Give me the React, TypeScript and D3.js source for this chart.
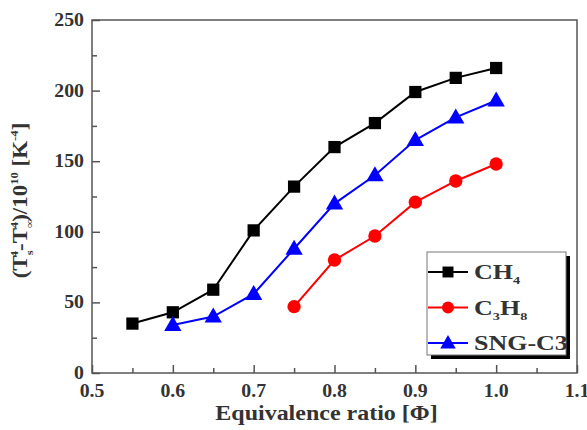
import React, { useRef, useEffect } from 'react';
import * as d3 from 'd3';

const phi = [0.55, 0.6, 0.65, 0.7, 0.75, 0.8, 0.85, 0.9, 0.95, 1.0];
const ch4 = [35, 43, 59, 101, 132, 160, 177, 199, 209, 216];
const sngPhi = [0.6, 0.65, 0.7, 0.75, 0.8, 0.85, 0.9, 0.95, 1.0];
const sng = [34, 40, 56, 88, 120, 140, 165, 181, 193];
const c3Phi = [0.75, 0.8, 0.85, 0.9, 0.95, 1.0];
const c3h8 = [47, 80, 97, 121, 136, 148];
const xTicks = [0.5, 0.6, 0.7, 0.8, 0.9, 1.0, 1.1];
const yTicks = [0, 50, 100, 150, 200, 250];

const W = 587, H = 430;
const m = { left: 92, right: 10, top: 20, bottom: 57 };
const FONT = '"Liberation Serif", "Times New Roman", serif';

const App: React.FC = () => {
  const ref = useRef<SVGSVGElement | null>(null);

  useEffect(() => {
    if (!ref.current) return;
    const svg = d3.select(ref.current);
    svg.selectAll('*').remove();

    const x = d3.scaleLinear().domain([0.5, 1.1]).range([m.left, W - m.right]);
    const y = d3.scaleLinear().domain([0, 250]).range([H - m.bottom, m.top]);
    const axisCol = '#555';

    // frame
    svg.append('rect')
      .attr('x', x(0.5)).attr('y', y(250))
      .attr('width', x(1.1) - x(0.5)).attr('height', y(0) - y(250))
      .attr('fill', 'none').attr('stroke', axisCol).attr('stroke-width', 1.5);

    // ticks point inward, minor ones shorter
    const yAx = svg.append('g').attr('transform', `translate(${x(0.5)},0)`)
      .call(d3.axisRight(y).tickValues(yTicks).tickSize(8).tickFormat(() => ''));
    yAx.append('g').call(d3.axisRight(y).tickValues(d3.range(25, 250, 50)).tickSize(5).tickFormat(() => ''));
    yAx.selectAll('path').remove();
    yAx.selectAll('line').attr('stroke', axisCol).attr('stroke-width', 1.5);

    const xAx = svg.append('g').attr('transform', `translate(0,${y(0)})`)
      .call(d3.axisTop(x).tickValues(xTicks).tickSize(8).tickFormat(() => ''));
    xAx.append('g').call(d3.axisTop(x).tickValues(d3.range(0.55, 1.1, 0.1)).tickSize(5).tickFormat(() => ''));
    xAx.selectAll('path').remove();
    xAx.selectAll('line').attr('stroke', axisCol).attr('stroke-width', 1.5);

    // tick labels
    svg.append('g').selectAll('text').data(yTicks).join('text')
      .attr('transform', d => `translate(${x(0.5) - 8},${y(d) + 6}) scale(1.1,1)`)
      .attr('text-anchor', 'end').attr('font-family', FONT).attr('font-weight', 'bold')
      .attr('font-size', 18).attr('fill', '#333').text(d => d);
    svg.append('g').selectAll('text').data(xTicks).join('text')
      .attr('transform', d => `translate(${x(d)},${y(0) + 24}) scale(1.1,1)`)
      .attr('text-anchor', 'middle').attr('font-family', FONT).attr('font-weight', 'bold')
      .attr('font-size', 18).attr('fill', '#333').text(d => d.toFixed(1));

    // axis titles
    svg.append('text')
      .attr('transform', `translate(${(x(0.5) + x(1.1)) / 2 - 8},${H - 10}) scale(1.2,1)`)
      .attr('text-anchor', 'middle').attr('font-family', FONT).attr('font-weight', 'bold')
      .attr('font-size', 20).attr('fill', '#333').text('Equivalence ratio [Φ]');

    const yt = svg.append('text')
      .attr('transform', `translate(27,${(y(0) + y(250)) / 2 + 4}) rotate(-90) scale(1.15,1)`)
      .attr('text-anchor', 'middle').attr('font-family', FONT).attr('font-weight', 'bold')
      .attr('font-size', 20).attr('fill', '#333');
    yt.append('tspan').text('(T');
    yt.append('tspan').attr('font-size', 11).attr('dy', 6).text('s');
    yt.append('tspan').attr('font-size', 11).attr('dx', -6).attr('dy', -15).text('4');
    yt.append('tspan').attr('dy', 9).text('-T');
    yt.append('tspan').attr('font-size', 11).attr('dy', 6).text('∞');
    yt.append('tspan').attr('font-size', 11).attr('dx', -8).attr('dy', -15).text('4');
    yt.append('tspan').attr('dy', 9).text(')/10');
    yt.append('tspan').attr('font-size', 11).attr('dy', -9).text('10');
    yt.append('tspan').attr('dy', 9).text(' [K');
    yt.append('tspan').attr('font-size', 11).attr('dy', -9).text('-4');
    yt.append('tspan').attr('dy', 9).text(']');

    // series
    const series = [
      { xs: phi, ys: ch4, color: '#000', shape: d3.symbolSquare, size: 150 },
      { xs: c3Phi, ys: c3h8, color: '#ff0000', shape: d3.symbolCircle, size: 140 },
      { xs: sngPhi, ys: sng, color: '#0000ff', shape: d3.symbolTriangle, size: 130 },
    ];
    const line = d3.line<[number, number]>().x(d => x(d[0])).y(d => y(d[1]));
    series.forEach(s => {
      const pts = s.xs.map((v, i) => [v, s.ys[i]] as [number, number]);
      svg.append('path').datum(pts).attr('d', line)
        .attr('fill', 'none').attr('stroke', s.color).attr('stroke-width', 2);
      svg.append('g').selectAll('path').data(pts).join('path')
        .attr('d', d3.symbol().type(s.shape).size(s.size)())
        .attr('transform', d => `translate(${x(d[0])},${y(d[1]) + (s.shape === d3.symbolTriangle ? 1 : 0)})`)
        .attr('fill', s.color);
    });

    // legend with drop shadow
    const lx = 427, ly = 252, lw = 139, lh = 103;
    svg.append('rect').attr('x', lx + 4).attr('y', ly + 4).attr('width', lw).attr('height', lh).attr('fill', '#000');
    svg.append('rect').attr('x', lx).attr('y', ly).attr('width', lw).attr('height', lh)
      .attr('fill', '#fff').attr('stroke', '#777').attr('stroke-width', 1);
    series.forEach((s, i) => {
      const cy = ly + 20 + i * 35.5;
      svg.append('line').attr('x1', lx + 1).attr('x2', lx + 41).attr('y1', cy).attr('y2', cy)
        .attr('stroke', s.color).attr('stroke-width', 2);
      svg.append('path').attr('d', d3.symbol().type(s.shape).size(s.size * 0.8)())
        .attr('transform', `translate(${lx + 21},${cy + (s.shape === d3.symbolTriangle ? 1 : 0)})`).attr('fill', s.color);
      const t = svg.append('text')
        .attr('transform', `translate(${lx + 47},${cy + 7}) scale(1.3,1)`)
        .attr('font-family', FONT).attr('font-weight', 'bold').attr('font-size', 20).attr('fill', '#333');
      if (i === 0) {
        t.append('tspan').text('CH');
        t.append('tspan').attr('font-size', 11).attr('dy', 5).text('4');
      } else if (i === 1) {
        t.append('tspan').text('C');
        t.append('tspan').attr('font-size', 11).attr('dy', 5).text('3');
        t.append('tspan').attr('dy', -5).text('H');
        t.append('tspan').attr('font-size', 11).attr('dy', 5).text('8');
      } else {
        t.append('tspan').text('SNG-C3');
      }
    });
  }, []);

  return <svg ref={ref} width={W} height={H} style={{ position: 'absolute', left: 0, top: 0, background: '#fff' }} />;
};

export default App;
